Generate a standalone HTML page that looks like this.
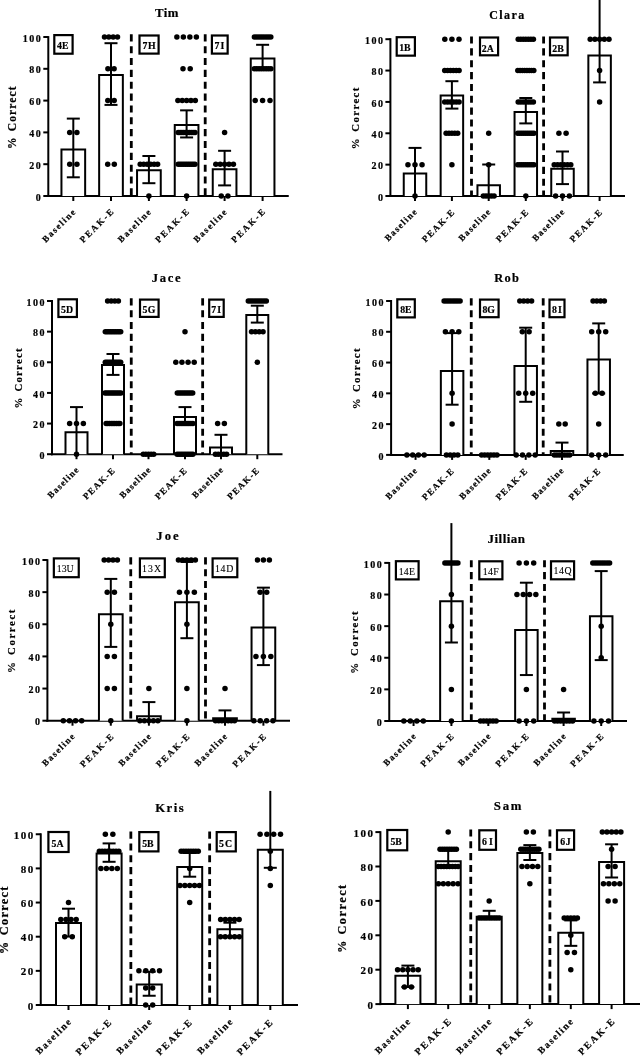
<!DOCTYPE html>
<html><head><meta charset="utf-8"><title>Figure</title><style>
html,body{margin:0;padding:0;background:#fff;}
svg{display:block;filter:grayscale(1) blur(0.3px);}
line,path.bar,rect.lb{stroke:#000;stroke-width:2.0;fill:none;}
rect.lb{stroke-width:2.2;}
path.bar{fill:#fff;}
line.dash{stroke-width:2.8;stroke-dasharray:7.1 4.75;}
circle{fill:#000;}
text{font-family:"Liberation Serif",serif;font-weight:bold;fill:#000;stroke:#000;stroke-width:0.2px;}
text.yt{text-anchor:end;}
text.xl{text-anchor:end;}
text.lbt{text-anchor:middle;font-size:9.5px;font-weight:normal;letter-spacing:0.4px;}
text.yl{text-anchor:middle;}
text.ti{text-anchor:middle;font-size:13px;}
</style></head>
<body><svg width="640" height="1056" viewBox="0 0 640 1056">
<rect x="0" y="0" width="640" height="1056" fill="#fff"/>
<g><line x1="48.3" y1="36.1" x2="48.3" y2="197"/>
<line x1="43.3" y1="196" x2="48.3" y2="196"/>
<text class="yt" x="42.3" y="200.6" style="font-size:10px;letter-spacing:1.5px">0</text>
<line x1="43.3" y1="164.2" x2="48.3" y2="164.2"/>
<text class="yt" x="42.3" y="168.8" style="font-size:10px;letter-spacing:1.5px">20</text>
<line x1="43.3" y1="132.4" x2="48.3" y2="132.4"/>
<text class="yt" x="42.3" y="137" style="font-size:10px;letter-spacing:1.5px">40</text>
<line x1="43.3" y1="100.6" x2="48.3" y2="100.6"/>
<text class="yt" x="42.3" y="105.2" style="font-size:10px;letter-spacing:1.5px">60</text>
<line x1="43.3" y1="68.8" x2="48.3" y2="68.8"/>
<text class="yt" x="42.3" y="73.4" style="font-size:10px;letter-spacing:1.5px">80</text>
<line x1="43.3" y1="37" x2="48.3" y2="37"/>
<text class="yt" x="42.3" y="41.6" style="font-size:10px;letter-spacing:1.5px">100</text>
<line x1="47.3" y1="196" x2="288.75" y2="196"/>
<line class="dash" x1="131.3" y1="34.3" x2="131.3" y2="196"/>
<line class="dash" x1="205.2" y1="34.3" x2="205.2" y2="196"/>
<line x1="73.3" y1="196" x2="73.3" y2="201"/>
<path class="bar" d="M61.45 196V149.6H85.15V196"/>
<line x1="73.3" y1="118.6" x2="73.3" y2="177.3"/>
<line x1="66.8" y1="118.6" x2="79.8" y2="118.6"/>
<line x1="66.8" y1="177.3" x2="79.8" y2="177.3"/>
<circle cx="69.7" cy="132.4" r="2.75"/>
<circle cx="76.9" cy="132.4" r="2.75"/>
<circle cx="69.7" cy="164.2" r="2.75"/>
<circle cx="76.9" cy="164.2" r="2.75"/>
<text class="xl" x="76.9" y="211.78" transform="rotate(-45 76.9 211.78)" style="font-size:9px;letter-spacing:1.5px">Baseline</text>
<line x1="111" y1="196" x2="111" y2="201"/>
<path class="bar" d="M99.15 196V75.1H122.85V196"/>
<line x1="111" y1="43.2" x2="111" y2="104.9"/>
<line x1="104.5" y1="43.2" x2="117.5" y2="43.2"/>
<line x1="104.5" y1="104.9" x2="117.5" y2="104.9"/>
<circle cx="104.5" cy="37" r="2.75"/>
<circle cx="108.83" cy="37" r="2.75"/>
<circle cx="113.17" cy="37" r="2.75"/>
<circle cx="117.5" cy="37" r="2.75"/>
<circle cx="107.9" cy="68.8" r="2.75"/>
<circle cx="114.1" cy="68.8" r="2.75"/>
<circle cx="107.8" cy="100.6" r="2.75"/>
<circle cx="114.2" cy="100.6" r="2.75"/>
<circle cx="107.7" cy="164.2" r="2.75"/>
<circle cx="114.3" cy="164.2" r="2.75"/>
<text class="xl" x="115.28" y="211.12" transform="rotate(-45 115.28 211.12)" style="font-size:9px;letter-spacing:1.9px">PEAK-E</text>
<line x1="148.9" y1="196" x2="148.9" y2="201"/>
<path class="bar" d="M137.05 196V170.15H160.75V196"/>
<line x1="148.9" y1="156" x2="148.9" y2="183.2"/>
<line x1="142.4" y1="156" x2="155.4" y2="156"/>
<line x1="142.4" y1="183.2" x2="155.4" y2="183.2"/>
<circle cx="140.2" cy="164.2" r="2.75"/>
<circle cx="143.68" cy="164.2" r="2.75"/>
<circle cx="147.16" cy="164.2" r="2.75"/>
<circle cx="150.64" cy="164.2" r="2.75"/>
<circle cx="154.12" cy="164.2" r="2.75"/>
<circle cx="157.6" cy="164.2" r="2.75"/>
<circle cx="148.9" cy="196" r="2.75"/>
<text class="xl" x="152.5" y="211.78" transform="rotate(-45 152.5 211.78)" style="font-size:9px;letter-spacing:1.5px">Baseline</text>
<line x1="186.6" y1="196" x2="186.6" y2="201"/>
<path class="bar" d="M174.75 196V125.05H198.45V196"/>
<line x1="186.6" y1="110.35" x2="186.6" y2="137.45"/>
<line x1="180.1" y1="110.35" x2="193.1" y2="110.35"/>
<line x1="180.1" y1="137.45" x2="193.1" y2="137.45"/>
<circle cx="176.85" cy="37" r="2.75"/>
<circle cx="183.35" cy="37" r="2.75"/>
<circle cx="189.85" cy="37" r="2.75"/>
<circle cx="196.35" cy="37" r="2.75"/>
<circle cx="183" cy="68.8" r="2.75"/>
<circle cx="190.2" cy="68.8" r="2.75"/>
<circle cx="177.9" cy="100.6" r="2.75"/>
<circle cx="182.25" cy="100.6" r="2.75"/>
<circle cx="186.6" cy="100.6" r="2.75"/>
<circle cx="190.95" cy="100.6" r="2.75"/>
<circle cx="195.3" cy="100.6" r="2.75"/>
<circle cx="178.2" cy="132.4" r="2.75"/>
<circle cx="180.07" cy="132.4" r="2.75"/>
<circle cx="181.93" cy="132.4" r="2.75"/>
<circle cx="183.8" cy="132.4" r="2.75"/>
<circle cx="185.67" cy="132.4" r="2.75"/>
<circle cx="187.53" cy="132.4" r="2.75"/>
<circle cx="189.4" cy="132.4" r="2.75"/>
<circle cx="191.27" cy="132.4" r="2.75"/>
<circle cx="193.13" cy="132.4" r="2.75"/>
<circle cx="195" cy="132.4" r="2.75"/>
<circle cx="178.2" cy="164.2" r="2.75"/>
<circle cx="180.07" cy="164.2" r="2.75"/>
<circle cx="181.93" cy="164.2" r="2.75"/>
<circle cx="183.8" cy="164.2" r="2.75"/>
<circle cx="185.67" cy="164.2" r="2.75"/>
<circle cx="187.53" cy="164.2" r="2.75"/>
<circle cx="189.4" cy="164.2" r="2.75"/>
<circle cx="191.27" cy="164.2" r="2.75"/>
<circle cx="193.13" cy="164.2" r="2.75"/>
<circle cx="195" cy="164.2" r="2.75"/>
<circle cx="186.6" cy="196" r="2.75"/>
<text class="xl" x="190.88" y="211.12" transform="rotate(-45 190.88 211.12)" style="font-size:9px;letter-spacing:1.9px">PEAK-E</text>
<line x1="224.6" y1="196" x2="224.6" y2="201"/>
<path class="bar" d="M212.75 196V169.15H236.45V196"/>
<line x1="224.6" y1="150.8" x2="224.6" y2="185.4"/>
<line x1="218.1" y1="150.8" x2="231.1" y2="150.8"/>
<line x1="218.1" y1="185.4" x2="231.1" y2="185.4"/>
<circle cx="224.6" cy="132.4" r="2.75"/>
<circle cx="215.8" cy="164.2" r="2.75"/>
<circle cx="220.2" cy="164.2" r="2.75"/>
<circle cx="224.6" cy="164.2" r="2.75"/>
<circle cx="229" cy="164.2" r="2.75"/>
<circle cx="233.4" cy="164.2" r="2.75"/>
<circle cx="221.25" cy="196" r="2.75"/>
<circle cx="227.95" cy="196" r="2.75"/>
<text class="xl" x="228.2" y="211.78" transform="rotate(-45 228.2 211.78)" style="font-size:9px;letter-spacing:1.5px">Baseline</text>
<line x1="262.6" y1="196" x2="262.6" y2="201"/>
<path class="bar" d="M250.75 196V58.5H274.45V196"/>
<line x1="262.6" y1="44.8" x2="262.6" y2="69.5"/>
<line x1="256.1" y1="44.8" x2="269.1" y2="44.8"/>
<line x1="256.1" y1="69.5" x2="269.1" y2="69.5"/>
<circle cx="254.4" cy="37" r="2.75"/>
<circle cx="256.74" cy="37" r="2.75"/>
<circle cx="259.09" cy="37" r="2.75"/>
<circle cx="261.43" cy="37" r="2.75"/>
<circle cx="263.77" cy="37" r="2.75"/>
<circle cx="266.11" cy="37" r="2.75"/>
<circle cx="268.46" cy="37" r="2.75"/>
<circle cx="270.8" cy="37" r="2.75"/>
<circle cx="254.3" cy="68.8" r="2.75"/>
<circle cx="256.67" cy="68.8" r="2.75"/>
<circle cx="259.04" cy="68.8" r="2.75"/>
<circle cx="261.41" cy="68.8" r="2.75"/>
<circle cx="263.79" cy="68.8" r="2.75"/>
<circle cx="266.16" cy="68.8" r="2.75"/>
<circle cx="268.53" cy="68.8" r="2.75"/>
<circle cx="270.9" cy="68.8" r="2.75"/>
<circle cx="255.2" cy="100.6" r="2.75"/>
<circle cx="262.6" cy="100.6" r="2.75"/>
<circle cx="270" cy="100.6" r="2.75"/>
<text class="xl" x="266.88" y="211.12" transform="rotate(-45 266.88 211.12)" style="font-size:9px;letter-spacing:1.9px">PEAK-E</text>
<rect class="lb" x="54.3" y="35.1" width="18.3" height="18.6"/>
<text class="lbt" x="62.77" y="49.3" style="font-size:9.8px;font-weight:bold;letter-spacing:0px">4E</text>
<rect class="lb" x="139.5" y="35.5" width="19.1" height="18.1"/>
<text class="lbt" x="149.32" y="49.05" style="font-size:9.8px;font-weight:bold;letter-spacing:0.5px">7H</text>
<rect class="lb" x="211.9" y="35.5" width="15.75" height="18.1"/>
<text class="lbt" x="220" y="49.05" style="font-size:9.8px;font-weight:bold;letter-spacing:1.2px">7I</text>
<text class="yl" x="16.25" y="117.12" transform="rotate(-90 16.25 117.12)" style="font-size:11.5px;letter-spacing:1.1px">% <tspan dx="1.2">Correct</tspan></text>
<text class="ti" x="166.95" y="16.88" style="font-size:12.8px;letter-spacing:0.4px">Tim</text></g>
<g><line x1="390.4" y1="38.2" x2="390.4" y2="197"/>
<line x1="385.4" y1="196" x2="390.4" y2="196"/>
<text class="yt" x="384.4" y="200.6" style="font-size:10px;letter-spacing:1.5px">0</text>
<line x1="385.4" y1="164.64" x2="390.4" y2="164.64"/>
<text class="yt" x="384.4" y="169.24" style="font-size:10px;letter-spacing:1.5px">20</text>
<line x1="385.4" y1="133.28" x2="390.4" y2="133.28"/>
<text class="yt" x="384.4" y="137.88" style="font-size:10px;letter-spacing:1.5px">40</text>
<line x1="385.4" y1="101.92" x2="390.4" y2="101.92"/>
<text class="yt" x="384.4" y="106.52" style="font-size:10px;letter-spacing:1.5px">60</text>
<line x1="385.4" y1="70.56" x2="390.4" y2="70.56"/>
<text class="yt" x="384.4" y="75.16" style="font-size:10px;letter-spacing:1.5px">80</text>
<line x1="385.4" y1="39.2" x2="390.4" y2="39.2"/>
<text class="yt" x="384.4" y="43.8" style="font-size:10px;letter-spacing:1.5px">100</text>
<line x1="389.4" y1="196" x2="625" y2="196"/>
<line class="dash" x1="471.5" y1="36.5" x2="471.5" y2="196"/>
<line class="dash" x1="543.6" y1="36.5" x2="543.6" y2="196"/>
<line x1="415" y1="196" x2="415" y2="201"/>
<path class="bar" d="M403.75 196V173.5H426.25V196"/>
<line x1="415" y1="147.9" x2="415" y2="196"/>
<line x1="408.5" y1="147.9" x2="421.5" y2="147.9"/>
<circle cx="407.95" cy="164.64" r="2.75"/>
<circle cx="415" cy="164.64" r="2.75"/>
<circle cx="422.05" cy="164.64" r="2.75"/>
<circle cx="415" cy="196" r="2.75"/>
<text class="xl" x="418.17" y="211.65" transform="rotate(-45 418.17 211.65)" style="font-size:9px;letter-spacing:1.3px">Baseline</text>
<line x1="451.9" y1="196" x2="451.9" y2="201"/>
<path class="bar" d="M440.65 196V95.5H463.15V196"/>
<line x1="451.9" y1="81.2" x2="451.9" y2="108.6"/>
<line x1="445.4" y1="81.2" x2="458.4" y2="81.2"/>
<line x1="445.4" y1="108.6" x2="458.4" y2="108.6"/>
<circle cx="444.8" cy="39.2" r="2.75"/>
<circle cx="451.9" cy="39.2" r="2.75"/>
<circle cx="459" cy="39.2" r="2.75"/>
<circle cx="444.7" cy="70.56" r="2.75"/>
<circle cx="447.58" cy="70.56" r="2.75"/>
<circle cx="450.46" cy="70.56" r="2.75"/>
<circle cx="453.34" cy="70.56" r="2.75"/>
<circle cx="456.22" cy="70.56" r="2.75"/>
<circle cx="459.1" cy="70.56" r="2.75"/>
<circle cx="444.7" cy="101.92" r="2.75"/>
<circle cx="447.58" cy="101.92" r="2.75"/>
<circle cx="450.46" cy="101.92" r="2.75"/>
<circle cx="453.34" cy="101.92" r="2.75"/>
<circle cx="456.22" cy="101.92" r="2.75"/>
<circle cx="459.1" cy="101.92" r="2.75"/>
<circle cx="446.1" cy="133.28" r="2.75"/>
<circle cx="449" cy="133.28" r="2.75"/>
<circle cx="451.9" cy="133.28" r="2.75"/>
<circle cx="454.8" cy="133.28" r="2.75"/>
<circle cx="457.7" cy="133.28" r="2.75"/>
<circle cx="451.9" cy="164.64" r="2.75"/>
<text class="xl" x="455.95" y="212.22" transform="rotate(-45 455.95 212.22)" style="font-size:9px;letter-spacing:1.5px">PEAK-E</text>
<line x1="488.7" y1="196" x2="488.7" y2="201"/>
<path class="bar" d="M477.45 196V185.25H499.95V196"/>
<line x1="488.7" y1="164.5" x2="488.7" y2="196"/>
<line x1="482.2" y1="164.5" x2="495.2" y2="164.5"/>
<circle cx="488.7" cy="133.28" r="2.75"/>
<circle cx="488.7" cy="164.64" r="2.75"/>
<circle cx="483.3" cy="196" r="2.75"/>
<circle cx="486" cy="196" r="2.75"/>
<circle cx="488.7" cy="196" r="2.75"/>
<circle cx="491.4" cy="196" r="2.75"/>
<circle cx="494.1" cy="196" r="2.75"/>
<text class="xl" x="491.88" y="211.65" transform="rotate(-45 491.88 211.65)" style="font-size:9px;letter-spacing:1.3px">Baseline</text>
<line x1="525.8" y1="196" x2="525.8" y2="201"/>
<path class="bar" d="M514.55 196V112.1H537.05V196"/>
<line x1="525.8" y1="98" x2="525.8" y2="123.4"/>
<line x1="519.3" y1="98" x2="532.3" y2="98"/>
<line x1="519.3" y1="123.4" x2="532.3" y2="123.4"/>
<circle cx="518.2" cy="39.2" r="2.75"/>
<circle cx="520.73" cy="39.2" r="2.75"/>
<circle cx="523.27" cy="39.2" r="2.75"/>
<circle cx="525.8" cy="39.2" r="2.75"/>
<circle cx="528.33" cy="39.2" r="2.75"/>
<circle cx="530.87" cy="39.2" r="2.75"/>
<circle cx="533.4" cy="39.2" r="2.75"/>
<circle cx="517.8" cy="70.56" r="2.75"/>
<circle cx="520.09" cy="70.56" r="2.75"/>
<circle cx="522.37" cy="70.56" r="2.75"/>
<circle cx="524.66" cy="70.56" r="2.75"/>
<circle cx="526.94" cy="70.56" r="2.75"/>
<circle cx="529.23" cy="70.56" r="2.75"/>
<circle cx="531.51" cy="70.56" r="2.75"/>
<circle cx="533.8" cy="70.56" r="2.75"/>
<circle cx="518.2" cy="101.92" r="2.75"/>
<circle cx="520.73" cy="101.92" r="2.75"/>
<circle cx="523.27" cy="101.92" r="2.75"/>
<circle cx="525.8" cy="101.92" r="2.75"/>
<circle cx="528.33" cy="101.92" r="2.75"/>
<circle cx="530.87" cy="101.92" r="2.75"/>
<circle cx="533.4" cy="101.92" r="2.75"/>
<circle cx="517.7" cy="133.28" r="2.75"/>
<circle cx="519.72" cy="133.28" r="2.75"/>
<circle cx="521.75" cy="133.28" r="2.75"/>
<circle cx="523.77" cy="133.28" r="2.75"/>
<circle cx="525.8" cy="133.28" r="2.75"/>
<circle cx="527.82" cy="133.28" r="2.75"/>
<circle cx="529.85" cy="133.28" r="2.75"/>
<circle cx="531.87" cy="133.28" r="2.75"/>
<circle cx="533.9" cy="133.28" r="2.75"/>
<circle cx="517.7" cy="164.64" r="2.75"/>
<circle cx="519.72" cy="164.64" r="2.75"/>
<circle cx="521.75" cy="164.64" r="2.75"/>
<circle cx="523.77" cy="164.64" r="2.75"/>
<circle cx="525.8" cy="164.64" r="2.75"/>
<circle cx="527.82" cy="164.64" r="2.75"/>
<circle cx="529.85" cy="164.64" r="2.75"/>
<circle cx="531.87" cy="164.64" r="2.75"/>
<circle cx="533.9" cy="164.64" r="2.75"/>
<circle cx="525.8" cy="196" r="2.75"/>
<text class="xl" x="529.85" y="212.22" transform="rotate(-45 529.85 212.22)" style="font-size:9px;letter-spacing:1.5px">PEAK-E</text>
<line x1="562.5" y1="196" x2="562.5" y2="201"/>
<path class="bar" d="M551.25 196V168.75H573.75V196"/>
<line x1="562.5" y1="151.5" x2="562.5" y2="184.1"/>
<line x1="556" y1="151.5" x2="569" y2="151.5"/>
<line x1="556" y1="184.1" x2="569" y2="184.1"/>
<circle cx="558.9" cy="133.28" r="2.75"/>
<circle cx="566.1" cy="133.28" r="2.75"/>
<circle cx="554.2" cy="164.64" r="2.75"/>
<circle cx="557.52" cy="164.64" r="2.75"/>
<circle cx="560.84" cy="164.64" r="2.75"/>
<circle cx="564.16" cy="164.64" r="2.75"/>
<circle cx="567.48" cy="164.64" r="2.75"/>
<circle cx="570.8" cy="164.64" r="2.75"/>
<circle cx="555.6" cy="196" r="2.75"/>
<circle cx="562.5" cy="196" r="2.75"/>
<circle cx="569.4" cy="196" r="2.75"/>
<text class="xl" x="565.68" y="211.65" transform="rotate(-45 565.68 211.65)" style="font-size:9px;letter-spacing:1.3px">Baseline</text>
<line x1="599.6" y1="196" x2="599.6" y2="201"/>
<path class="bar" d="M588.35 196V55.5H610.85V196"/>
<line x1="599.6" y1="0" x2="599.6" y2="82.4"/>
<line x1="593.1" y1="82.4" x2="606.1" y2="82.4"/>
<circle cx="590.2" cy="39.2" r="2.75"/>
<circle cx="594.9" cy="39.2" r="2.75"/>
<circle cx="599.6" cy="39.2" r="2.75"/>
<circle cx="604.3" cy="39.2" r="2.75"/>
<circle cx="609" cy="39.2" r="2.75"/>
<circle cx="599.6" cy="70.56" r="2.75"/>
<circle cx="599.6" cy="101.92" r="2.75"/>
<text class="xl" x="603.65" y="212.22" transform="rotate(-45 603.65 212.22)" style="font-size:9px;letter-spacing:1.5px">PEAK-E</text>
<rect class="lb" x="396.7" y="37.2" width="18.2" height="18.45"/>
<text class="lbt" x="404.88" y="50.95" style="font-size:9.8px;font-weight:bold;letter-spacing:0px">1B</text>
<rect class="lb" x="480" y="37.5" width="18.1" height="17.8"/>
<text class="lbt" x="487.85" y="51.55" style="font-size:9.8px;font-weight:bold;letter-spacing:0px">2A</text>
<rect class="lb" x="550" y="37.5" width="17.65" height="17.8"/>
<text class="lbt" x="558.08" y="51.55" style="font-size:9.8px;font-weight:bold;letter-spacing:0px">2B</text>
<text class="yl" x="359.2" y="117.75" transform="rotate(-90 359.2 117.75)" style="font-size:10.8px;letter-spacing:1.4px">% <tspan dx="1.2">Correct</tspan></text>
<text class="ti" x="507.4" y="18.77" style="font-size:12px;letter-spacing:1.4px">Clara</text></g>
<g><line x1="52" y1="300" x2="52" y2="455.2"/>
<line x1="47" y1="454.2" x2="52" y2="454.2"/>
<text class="yt" x="46" y="458.8" style="font-size:10px;letter-spacing:1.5px">0</text>
<line x1="47" y1="423.56" x2="52" y2="423.56"/>
<text class="yt" x="46" y="428.16" style="font-size:10px;letter-spacing:1.5px">20</text>
<line x1="47" y1="392.92" x2="52" y2="392.92"/>
<text class="yt" x="46" y="397.52" style="font-size:10px;letter-spacing:1.5px">40</text>
<line x1="47" y1="362.28" x2="52" y2="362.28"/>
<text class="yt" x="46" y="366.88" style="font-size:10px;letter-spacing:1.5px">60</text>
<line x1="47" y1="331.64" x2="52" y2="331.64"/>
<text class="yt" x="46" y="336.24" style="font-size:10px;letter-spacing:1.5px">80</text>
<line x1="47" y1="301" x2="52" y2="301"/>
<text class="yt" x="46" y="305.6" style="font-size:10px;letter-spacing:1.5px">100</text>
<line x1="51" y1="454.2" x2="282.5" y2="454.2"/>
<line class="dash" x1="131.25" y1="298.3" x2="131.25" y2="454.2"/>
<line class="dash" x1="202.65" y1="298.3" x2="202.65" y2="454.2"/>
<line x1="76.5" y1="454.2" x2="76.5" y2="459.2"/>
<path class="bar" d="M65.5 454.2V432.35H87.5V454.2"/>
<line x1="76.5" y1="407.1" x2="76.5" y2="454.2"/>
<line x1="70" y1="407.1" x2="83" y2="407.1"/>
<circle cx="69.65" cy="423.56" r="2.75"/>
<circle cx="76.5" cy="423.56" r="2.75"/>
<circle cx="83.35" cy="423.56" r="2.75"/>
<circle cx="76.5" cy="454.2" r="2.75"/>
<text class="xl" x="79.9" y="469.88" transform="rotate(-45 79.9 469.88)" style="font-size:9px;letter-spacing:1.1px">Baseline</text>
<line x1="113" y1="454.2" x2="113" y2="459.2"/>
<path class="bar" d="M102 454.2V365.1H124V454.2"/>
<line x1="113" y1="354" x2="113" y2="374.9"/>
<line x1="106.5" y1="354" x2="119.5" y2="354"/>
<line x1="106.5" y1="374.9" x2="119.5" y2="374.9"/>
<circle cx="107.6" cy="301" r="2.75"/>
<circle cx="111.2" cy="301" r="2.75"/>
<circle cx="114.8" cy="301" r="2.75"/>
<circle cx="118.4" cy="301" r="2.75"/>
<circle cx="105.3" cy="331.64" r="2.75"/>
<circle cx="107.01" cy="331.64" r="2.75"/>
<circle cx="108.72" cy="331.64" r="2.75"/>
<circle cx="110.43" cy="331.64" r="2.75"/>
<circle cx="112.14" cy="331.64" r="2.75"/>
<circle cx="113.86" cy="331.64" r="2.75"/>
<circle cx="115.57" cy="331.64" r="2.75"/>
<circle cx="117.28" cy="331.64" r="2.75"/>
<circle cx="118.99" cy="331.64" r="2.75"/>
<circle cx="120.7" cy="331.64" r="2.75"/>
<circle cx="105.3" cy="362.28" r="2.75"/>
<circle cx="107.01" cy="362.28" r="2.75"/>
<circle cx="108.72" cy="362.28" r="2.75"/>
<circle cx="110.43" cy="362.28" r="2.75"/>
<circle cx="112.14" cy="362.28" r="2.75"/>
<circle cx="113.86" cy="362.28" r="2.75"/>
<circle cx="115.57" cy="362.28" r="2.75"/>
<circle cx="117.28" cy="362.28" r="2.75"/>
<circle cx="118.99" cy="362.28" r="2.75"/>
<circle cx="120.7" cy="362.28" r="2.75"/>
<circle cx="105" cy="392.92" r="2.75"/>
<circle cx="106.78" cy="392.92" r="2.75"/>
<circle cx="108.56" cy="392.92" r="2.75"/>
<circle cx="110.33" cy="392.92" r="2.75"/>
<circle cx="112.11" cy="392.92" r="2.75"/>
<circle cx="113.89" cy="392.92" r="2.75"/>
<circle cx="115.67" cy="392.92" r="2.75"/>
<circle cx="117.44" cy="392.92" r="2.75"/>
<circle cx="119.22" cy="392.92" r="2.75"/>
<circle cx="121" cy="392.92" r="2.75"/>
<circle cx="106.1" cy="423.56" r="2.75"/>
<circle cx="107.82" cy="423.56" r="2.75"/>
<circle cx="109.55" cy="423.56" r="2.75"/>
<circle cx="111.27" cy="423.56" r="2.75"/>
<circle cx="113" cy="423.56" r="2.75"/>
<circle cx="114.72" cy="423.56" r="2.75"/>
<circle cx="116.45" cy="423.56" r="2.75"/>
<circle cx="118.17" cy="423.56" r="2.75"/>
<circle cx="119.9" cy="423.56" r="2.75"/>
<text class="xl" x="116.1" y="470.48" transform="rotate(-45 116.1 470.48)" style="font-size:9px;letter-spacing:1.3px">PEAK-E</text>
<line x1="148.5" y1="454.2" x2="148.5" y2="459.2"/>
<circle cx="143.25" cy="454.2" r="2.75"/>
<circle cx="145.88" cy="454.2" r="2.75"/>
<circle cx="148.5" cy="454.2" r="2.75"/>
<circle cx="151.12" cy="454.2" r="2.75"/>
<circle cx="153.75" cy="454.2" r="2.75"/>
<text class="xl" x="151.9" y="469.88" transform="rotate(-45 151.9 469.88)" style="font-size:9px;letter-spacing:1.1px">Baseline</text>
<line x1="185" y1="454.2" x2="185" y2="459.2"/>
<path class="bar" d="M174 454.2V417.1H196V454.2"/>
<line x1="185" y1="407.1" x2="185" y2="425"/>
<line x1="178.5" y1="407.1" x2="191.5" y2="407.1"/>
<line x1="178.5" y1="425" x2="191.5" y2="425"/>
<circle cx="185" cy="331.64" r="2.75"/>
<circle cx="175.8" cy="362.28" r="2.75"/>
<circle cx="181.93" cy="362.28" r="2.75"/>
<circle cx="188.07" cy="362.28" r="2.75"/>
<circle cx="194.2" cy="362.28" r="2.75"/>
<circle cx="177.3" cy="392.92" r="2.75"/>
<circle cx="179.23" cy="392.92" r="2.75"/>
<circle cx="181.15" cy="392.92" r="2.75"/>
<circle cx="183.08" cy="392.92" r="2.75"/>
<circle cx="185" cy="392.92" r="2.75"/>
<circle cx="186.93" cy="392.92" r="2.75"/>
<circle cx="188.85" cy="392.92" r="2.75"/>
<circle cx="190.78" cy="392.92" r="2.75"/>
<circle cx="192.7" cy="392.92" r="2.75"/>
<circle cx="177.1" cy="423.56" r="2.75"/>
<circle cx="179.07" cy="423.56" r="2.75"/>
<circle cx="181.05" cy="423.56" r="2.75"/>
<circle cx="183.03" cy="423.56" r="2.75"/>
<circle cx="185" cy="423.56" r="2.75"/>
<circle cx="186.97" cy="423.56" r="2.75"/>
<circle cx="188.95" cy="423.56" r="2.75"/>
<circle cx="190.92" cy="423.56" r="2.75"/>
<circle cx="192.9" cy="423.56" r="2.75"/>
<circle cx="177.1" cy="454.2" r="2.75"/>
<circle cx="179.07" cy="454.2" r="2.75"/>
<circle cx="181.05" cy="454.2" r="2.75"/>
<circle cx="183.03" cy="454.2" r="2.75"/>
<circle cx="185" cy="454.2" r="2.75"/>
<circle cx="186.97" cy="454.2" r="2.75"/>
<circle cx="188.95" cy="454.2" r="2.75"/>
<circle cx="190.92" cy="454.2" r="2.75"/>
<circle cx="192.9" cy="454.2" r="2.75"/>
<text class="xl" x="188.1" y="470.48" transform="rotate(-45 188.1 470.48)" style="font-size:9px;letter-spacing:1.3px">PEAK-E</text>
<line x1="221" y1="454.2" x2="221" y2="459.2"/>
<path class="bar" d="M210 454.2V447.55H232V454.2"/>
<line x1="221" y1="434.8" x2="221" y2="454.2"/>
<line x1="214.5" y1="434.8" x2="227.5" y2="434.8"/>
<circle cx="217.65" cy="423.56" r="2.75"/>
<circle cx="224.35" cy="423.56" r="2.75"/>
<circle cx="215.4" cy="454.2" r="2.75"/>
<circle cx="218.2" cy="454.2" r="2.75"/>
<circle cx="221" cy="454.2" r="2.75"/>
<circle cx="223.8" cy="454.2" r="2.75"/>
<circle cx="226.6" cy="454.2" r="2.75"/>
<text class="xl" x="224.4" y="469.88" transform="rotate(-45 224.4 469.88)" style="font-size:9px;letter-spacing:1.1px">Baseline</text>
<line x1="257.3" y1="454.2" x2="257.3" y2="459.2"/>
<path class="bar" d="M246.3 454.2V315H268.3V454.2"/>
<line x1="257.3" y1="305.7" x2="257.3" y2="322.6"/>
<line x1="250.8" y1="305.7" x2="263.8" y2="305.7"/>
<line x1="250.8" y1="322.6" x2="263.8" y2="322.6"/>
<circle cx="248.3" cy="301" r="2.75"/>
<circle cx="250.55" cy="301" r="2.75"/>
<circle cx="252.8" cy="301" r="2.75"/>
<circle cx="255.05" cy="301" r="2.75"/>
<circle cx="257.3" cy="301" r="2.75"/>
<circle cx="259.55" cy="301" r="2.75"/>
<circle cx="261.8" cy="301" r="2.75"/>
<circle cx="264.05" cy="301" r="2.75"/>
<circle cx="266.3" cy="301" r="2.75"/>
<circle cx="251.55" cy="331.64" r="2.75"/>
<circle cx="255.38" cy="331.64" r="2.75"/>
<circle cx="259.22" cy="331.64" r="2.75"/>
<circle cx="263.05" cy="331.64" r="2.75"/>
<circle cx="257.3" cy="362.28" r="2.75"/>
<text class="xl" x="260.4" y="470.48" transform="rotate(-45 260.4 470.48)" style="font-size:9px;letter-spacing:1.3px">PEAK-E</text>
<rect class="lb" x="58.4" y="299.3" width="18.5" height="17.7"/>
<text class="lbt" x="67.1" y="313" style="font-size:9.8px;font-weight:bold;letter-spacing:0px">5D</text>
<rect class="lb" x="140" y="299.6" width="18.6" height="17.3"/>
<text class="lbt" x="149.03" y="312.65" style="font-size:9.8px;font-weight:bold;letter-spacing:0.3px">5G</text>
<rect class="lb" x="209.2" y="299.6" width="14.5" height="17.3"/>
<text class="lbt" x="216.62" y="312.65" style="font-size:9.8px;font-weight:bold;letter-spacing:0.9px">7I</text>
<text class="yl" x="22.05" y="377.95" transform="rotate(-90 22.05 377.95)" style="font-size:10.8px;letter-spacing:1.2px">% <tspan dx="1.2">Correct</tspan></text>
<text class="ti" x="167" y="281.6" style="font-size:12.6px;letter-spacing:1.7px">Jace</text></g>
<g><line x1="391.1" y1="300" x2="391.1" y2="455.9"/>
<line x1="386.1" y1="454.9" x2="391.1" y2="454.9"/>
<text class="yt" x="385.1" y="459.5" style="font-size:10px;letter-spacing:1.5px">0</text>
<line x1="386.1" y1="424.12" x2="391.1" y2="424.12"/>
<text class="yt" x="385.1" y="428.72" style="font-size:10px;letter-spacing:1.5px">20</text>
<line x1="386.1" y1="393.34" x2="391.1" y2="393.34"/>
<text class="yt" x="385.1" y="397.94" style="font-size:10px;letter-spacing:1.5px">40</text>
<line x1="386.1" y1="362.56" x2="391.1" y2="362.56"/>
<text class="yt" x="385.1" y="367.16" style="font-size:10px;letter-spacing:1.5px">60</text>
<line x1="386.1" y1="331.78" x2="391.1" y2="331.78"/>
<text class="yt" x="385.1" y="336.38" style="font-size:10px;letter-spacing:1.5px">80</text>
<line x1="386.1" y1="301" x2="391.1" y2="301"/>
<text class="yt" x="385.1" y="305.6" style="font-size:10px;letter-spacing:1.5px">100</text>
<line x1="390.1" y1="454.9" x2="623.75" y2="454.9"/>
<line class="dash" x1="471.25" y1="298.3" x2="471.25" y2="454.9"/>
<line class="dash" x1="543.2" y1="298.3" x2="543.2" y2="454.9"/>
<line x1="415.55" y1="454.9" x2="415.55" y2="459.9"/>
<circle cx="406.9" cy="454.9" r="2.75"/>
<circle cx="412.67" cy="454.9" r="2.75"/>
<circle cx="418.43" cy="454.9" r="2.75"/>
<circle cx="424.2" cy="454.9" r="2.75"/>
<text class="xl" x="418.43" y="470.5" transform="rotate(-45 418.43 470.5)" style="font-size:9px;letter-spacing:1.2px">Baseline</text>
<line x1="452.1" y1="454.9" x2="452.1" y2="459.9"/>
<path class="bar" d="M440.85 454.9V370.9H463.35V454.9"/>
<line x1="452.1" y1="333.1" x2="452.1" y2="404.7"/>
<line x1="445.6" y1="333.1" x2="458.6" y2="333.1"/>
<line x1="445.6" y1="404.7" x2="458.6" y2="404.7"/>
<circle cx="444.1" cy="301" r="2.75"/>
<circle cx="446.39" cy="301" r="2.75"/>
<circle cx="448.67" cy="301" r="2.75"/>
<circle cx="450.96" cy="301" r="2.75"/>
<circle cx="453.24" cy="301" r="2.75"/>
<circle cx="455.53" cy="301" r="2.75"/>
<circle cx="457.81" cy="301" r="2.75"/>
<circle cx="460.1" cy="301" r="2.75"/>
<circle cx="445.4" cy="331.78" r="2.75"/>
<circle cx="452.1" cy="331.78" r="2.75"/>
<circle cx="458.8" cy="331.78" r="2.75"/>
<circle cx="452.1" cy="393.34" r="2.75"/>
<circle cx="452.1" cy="424.12" r="2.75"/>
<circle cx="446.4" cy="454.9" r="2.75"/>
<circle cx="450.2" cy="454.9" r="2.75"/>
<circle cx="454" cy="454.9" r="2.75"/>
<circle cx="457.8" cy="454.9" r="2.75"/>
<text class="xl" x="455.2" y="471.17" transform="rotate(-45 455.2 471.17)" style="font-size:9px;letter-spacing:1.3px">PEAK-E</text>
<line x1="489.3" y1="454.9" x2="489.3" y2="459.9"/>
<circle cx="481.6" cy="454.9" r="2.75"/>
<circle cx="484.68" cy="454.9" r="2.75"/>
<circle cx="487.76" cy="454.9" r="2.75"/>
<circle cx="490.84" cy="454.9" r="2.75"/>
<circle cx="493.92" cy="454.9" r="2.75"/>
<circle cx="497" cy="454.9" r="2.75"/>
<text class="xl" x="492.18" y="470.5" transform="rotate(-45 492.18 470.5)" style="font-size:9px;letter-spacing:1.2px">Baseline</text>
<line x1="525.7" y1="454.9" x2="525.7" y2="459.9"/>
<path class="bar" d="M514.45 454.9V366.1H536.95V454.9"/>
<line x1="525.7" y1="327.7" x2="525.7" y2="401.8"/>
<line x1="519.2" y1="327.7" x2="532.2" y2="327.7"/>
<line x1="519.2" y1="401.8" x2="532.2" y2="401.8"/>
<circle cx="519.8" cy="301" r="2.75"/>
<circle cx="523.73" cy="301" r="2.75"/>
<circle cx="527.67" cy="301" r="2.75"/>
<circle cx="531.6" cy="301" r="2.75"/>
<circle cx="522.3" cy="331.78" r="2.75"/>
<circle cx="529.1" cy="331.78" r="2.75"/>
<circle cx="518.7" cy="393.34" r="2.75"/>
<circle cx="525.7" cy="393.34" r="2.75"/>
<circle cx="532.7" cy="393.34" r="2.75"/>
<circle cx="516.2" cy="454.9" r="2.75"/>
<circle cx="522.53" cy="454.9" r="2.75"/>
<circle cx="528.87" cy="454.9" r="2.75"/>
<circle cx="535.2" cy="454.9" r="2.75"/>
<text class="xl" x="528.8" y="471.17" transform="rotate(-45 528.8 471.17)" style="font-size:9px;letter-spacing:1.3px">PEAK-E</text>
<line x1="562" y1="454.9" x2="562" y2="459.9"/>
<path class="bar" d="M550.75 454.9V450.9H573.25V454.9"/>
<line x1="562" y1="442.6" x2="562" y2="454.9"/>
<line x1="555.5" y1="442.6" x2="568.5" y2="442.6"/>
<circle cx="558.8" cy="424.12" r="2.75"/>
<circle cx="565.2" cy="424.12" r="2.75"/>
<circle cx="554.3" cy="454.9" r="2.75"/>
<circle cx="556.87" cy="454.9" r="2.75"/>
<circle cx="559.43" cy="454.9" r="2.75"/>
<circle cx="562" cy="454.9" r="2.75"/>
<circle cx="564.57" cy="454.9" r="2.75"/>
<circle cx="567.13" cy="454.9" r="2.75"/>
<circle cx="569.7" cy="454.9" r="2.75"/>
<text class="xl" x="564.88" y="470.5" transform="rotate(-45 564.88 470.5)" style="font-size:9px;letter-spacing:1.2px">Baseline</text>
<line x1="598.7" y1="454.9" x2="598.7" y2="459.9"/>
<path class="bar" d="M587.45 454.9V359.6H609.95V454.9"/>
<line x1="598.7" y1="323.4" x2="598.7" y2="393.4"/>
<line x1="592.2" y1="323.4" x2="605.2" y2="323.4"/>
<line x1="592.2" y1="393.4" x2="605.2" y2="393.4"/>
<circle cx="593.05" cy="301" r="2.75"/>
<circle cx="596.82" cy="301" r="2.75"/>
<circle cx="600.58" cy="301" r="2.75"/>
<circle cx="604.35" cy="301" r="2.75"/>
<circle cx="591.7" cy="331.78" r="2.75"/>
<circle cx="598.7" cy="331.78" r="2.75"/>
<circle cx="605.7" cy="331.78" r="2.75"/>
<circle cx="595.3" cy="393.34" r="2.75"/>
<circle cx="602.1" cy="393.34" r="2.75"/>
<circle cx="598.7" cy="424.12" r="2.75"/>
<circle cx="591.7" cy="454.9" r="2.75"/>
<circle cx="598.7" cy="454.9" r="2.75"/>
<circle cx="605.7" cy="454.9" r="2.75"/>
<text class="xl" x="601.8" y="471.17" transform="rotate(-45 601.8 471.17)" style="font-size:9px;letter-spacing:1.3px">PEAK-E</text>
<rect class="lb" x="397.3" y="299.3" width="17.5" height="18.1"/>
<text class="lbt" x="405.95" y="313.15" style="font-size:9.8px;font-weight:bold;letter-spacing:0px">8E</text>
<rect class="lb" x="480" y="299.6" width="18.6" height="17.6"/>
<text class="lbt" x="488.65" y="313.15" style="font-size:9.8px;font-weight:bold;letter-spacing:0px">8G</text>
<rect class="lb" x="549.5" y="299.6" width="15" height="17.6"/>
<text class="lbt" x="557.35" y="313.15" style="font-size:9.8px;font-weight:bold;letter-spacing:0.9px">8I</text>
<text class="yl" x="360.25" y="378.23" transform="rotate(-90 360.25 378.23)" style="font-size:10.8px;letter-spacing:1.3px">% <tspan dx="1.2">Correct</tspan></text>
<text class="ti" x="507.2" y="282" style="font-size:12.4px;letter-spacing:1.3px">Rob</text></g>
<g><line x1="47.4" y1="559.2" x2="47.4" y2="721.7"/>
<line x1="42.4" y1="720.7" x2="47.4" y2="720.7"/>
<text class="yt" x="41.4" y="725.3" style="font-size:10px;letter-spacing:1.5px">0</text>
<line x1="42.4" y1="688.56" x2="47.4" y2="688.56"/>
<text class="yt" x="41.4" y="693.16" style="font-size:10px;letter-spacing:1.5px">20</text>
<line x1="42.4" y1="656.42" x2="47.4" y2="656.42"/>
<text class="yt" x="41.4" y="661.02" style="font-size:10px;letter-spacing:1.5px">40</text>
<line x1="42.4" y1="624.28" x2="47.4" y2="624.28"/>
<text class="yt" x="41.4" y="628.88" style="font-size:10px;letter-spacing:1.5px">60</text>
<line x1="42.4" y1="592.14" x2="47.4" y2="592.14"/>
<text class="yt" x="41.4" y="596.74" style="font-size:10px;letter-spacing:1.5px">80</text>
<line x1="42.4" y1="560" x2="47.4" y2="560"/>
<text class="yt" x="41.4" y="564.6" style="font-size:10px;letter-spacing:1.5px">100</text>
<line x1="46.4" y1="720.7" x2="290" y2="720.7"/>
<line class="dash" x1="130.75" y1="557.3" x2="130.75" y2="720.7"/>
<line class="dash" x1="205.5" y1="557.3" x2="205.5" y2="720.7"/>
<line x1="72.5" y1="720.7" x2="72.5" y2="725.7"/>
<circle cx="63.3" cy="720.7" r="2.75"/>
<circle cx="69.43" cy="720.7" r="2.75"/>
<circle cx="75.57" cy="720.7" r="2.75"/>
<circle cx="81.7" cy="720.7" r="2.75"/>
<text class="xl" x="76.1" y="736.2" transform="rotate(-45 76.1 736.2)" style="font-size:9px;letter-spacing:1.4px">Baseline</text>
<line x1="110.8" y1="720.7" x2="110.8" y2="725.7"/>
<path class="bar" d="M98.95 720.7V614.2H122.65V720.7"/>
<line x1="110.8" y1="578.9" x2="110.8" y2="646.9"/>
<line x1="104.3" y1="578.9" x2="117.3" y2="578.9"/>
<line x1="104.3" y1="646.9" x2="117.3" y2="646.9"/>
<circle cx="104.2" cy="560" r="2.75"/>
<circle cx="108.6" cy="560" r="2.75"/>
<circle cx="113" cy="560" r="2.75"/>
<circle cx="117.4" cy="560" r="2.75"/>
<circle cx="107.2" cy="592.14" r="2.75"/>
<circle cx="114.4" cy="592.14" r="2.75"/>
<circle cx="110.8" cy="624.28" r="2.75"/>
<circle cx="107.2" cy="656.42" r="2.75"/>
<circle cx="114.4" cy="656.42" r="2.75"/>
<circle cx="107.2" cy="688.56" r="2.75"/>
<circle cx="114.4" cy="688.56" r="2.75"/>
<circle cx="110.8" cy="720.7" r="2.75"/>
<text class="xl" x="115.2" y="736.17" transform="rotate(-45 115.2 736.17)" style="font-size:9px;letter-spacing:1.8px">PEAK-E</text>
<line x1="148.9" y1="720.7" x2="148.9" y2="725.7"/>
<path class="bar" d="M137.05 720.7V716.15H160.75V720.7"/>
<line x1="148.9" y1="702.1" x2="148.9" y2="720.7"/>
<line x1="142.4" y1="702.1" x2="155.4" y2="702.1"/>
<circle cx="148.9" cy="688.56" r="2.75"/>
<circle cx="139.9" cy="720.7" r="2.75"/>
<circle cx="144.4" cy="720.7" r="2.75"/>
<circle cx="148.9" cy="720.7" r="2.75"/>
<circle cx="153.4" cy="720.7" r="2.75"/>
<circle cx="157.9" cy="720.7" r="2.75"/>
<text class="xl" x="152.5" y="736.2" transform="rotate(-45 152.5 736.2)" style="font-size:9px;letter-spacing:1.4px">Baseline</text>
<line x1="186.9" y1="720.7" x2="186.9" y2="725.7"/>
<path class="bar" d="M175.05 720.7V602.25H198.75V720.7"/>
<line x1="186.9" y1="561.95" x2="186.9" y2="638.2"/>
<line x1="180.4" y1="561.95" x2="193.4" y2="561.95"/>
<line x1="180.4" y1="638.2" x2="193.4" y2="638.2"/>
<circle cx="178.45" cy="560" r="2.75"/>
<circle cx="182.68" cy="560" r="2.75"/>
<circle cx="186.9" cy="560" r="2.75"/>
<circle cx="191.13" cy="560" r="2.75"/>
<circle cx="195.35" cy="560" r="2.75"/>
<circle cx="179.45" cy="592.14" r="2.75"/>
<circle cx="186.9" cy="592.14" r="2.75"/>
<circle cx="194.35" cy="592.14" r="2.75"/>
<circle cx="186.9" cy="624.28" r="2.75"/>
<circle cx="186.9" cy="688.56" r="2.75"/>
<circle cx="186.9" cy="720.7" r="2.75"/>
<text class="xl" x="191.3" y="736.17" transform="rotate(-45 191.3 736.17)" style="font-size:9px;letter-spacing:1.8px">PEAK-E</text>
<line x1="225" y1="720.7" x2="225" y2="725.7"/>
<path class="bar" d="M213.15 720.7V718.3H236.85V720.7"/>
<line x1="225" y1="710.4" x2="225" y2="720.7"/>
<line x1="218.5" y1="710.4" x2="231.5" y2="710.4"/>
<circle cx="225" cy="688.56" r="2.75"/>
<circle cx="215.5" cy="720.7" r="2.75"/>
<circle cx="218.67" cy="720.7" r="2.75"/>
<circle cx="221.83" cy="720.7" r="2.75"/>
<circle cx="225" cy="720.7" r="2.75"/>
<circle cx="228.17" cy="720.7" r="2.75"/>
<circle cx="231.33" cy="720.7" r="2.75"/>
<circle cx="234.5" cy="720.7" r="2.75"/>
<text class="xl" x="228.6" y="736.2" transform="rotate(-45 228.6 736.2)" style="font-size:9px;letter-spacing:1.4px">Baseline</text>
<line x1="263.4" y1="720.7" x2="263.4" y2="725.7"/>
<path class="bar" d="M251.55 720.7V627.45H275.25V720.7"/>
<line x1="263.4" y1="587.65" x2="263.4" y2="665.1"/>
<line x1="256.9" y1="587.65" x2="269.9" y2="587.65"/>
<line x1="256.9" y1="665.1" x2="269.9" y2="665.1"/>
<circle cx="257.45" cy="560" r="2.75"/>
<circle cx="263.4" cy="560" r="2.75"/>
<circle cx="269.35" cy="560" r="2.75"/>
<circle cx="260.1" cy="592.14" r="2.75"/>
<circle cx="266.7" cy="592.14" r="2.75"/>
<circle cx="255.95" cy="656.42" r="2.75"/>
<circle cx="263.4" cy="656.42" r="2.75"/>
<circle cx="270.85" cy="656.42" r="2.75"/>
<circle cx="253.85" cy="720.7" r="2.75"/>
<circle cx="260.22" cy="720.7" r="2.75"/>
<circle cx="266.58" cy="720.7" r="2.75"/>
<circle cx="272.95" cy="720.7" r="2.75"/>
<text class="xl" x="267.8" y="736.17" transform="rotate(-45 267.8 736.17)" style="font-size:9px;letter-spacing:1.8px">PEAK-E</text>
<rect class="lb" x="53.85" y="558.4" width="24.9" height="18.8"/>
<text class="lbt" x="65.18" y="572.2" style="font-size:9.8px;font-weight:normal;letter-spacing:0px;stroke-width:0.1px">13U</text>
<rect class="lb" x="139.9" y="558.4" width="24.9" height="18.8"/>
<text class="lbt" x="152" y="572.3" style="font-size:9.8px;font-weight:normal;letter-spacing:1.1px;stroke-width:0.1px">13X</text>
<rect class="lb" x="212.6" y="558.4" width="24.7" height="18.8"/>
<text class="lbt" x="224.48" y="572.3" style="font-size:9.8px;font-weight:normal;letter-spacing:0.7px;stroke-width:0.1px">14D</text>
<text class="yl" x="15.1" y="640.45" transform="rotate(-90 15.1 640.45)" style="font-size:10.8px;letter-spacing:1.6px">% <tspan dx="1.2">Correct</tspan></text>
<text class="ti" x="168.55" y="539.6" style="font-size:12.6px;letter-spacing:2.1px">Joe</text></g>
<g><line x1="389.25" y1="562" x2="389.25" y2="722"/>
<line x1="384.25" y1="721" x2="389.25" y2="721"/>
<text class="yt" x="383.25" y="725.6" style="font-size:10px;letter-spacing:1.5px">0</text>
<line x1="384.25" y1="689.38" x2="389.25" y2="689.38"/>
<text class="yt" x="383.25" y="693.98" style="font-size:10px;letter-spacing:1.5px">20</text>
<line x1="384.25" y1="657.76" x2="389.25" y2="657.76"/>
<text class="yt" x="383.25" y="662.36" style="font-size:10px;letter-spacing:1.5px">40</text>
<line x1="384.25" y1="626.14" x2="389.25" y2="626.14"/>
<text class="yt" x="383.25" y="630.74" style="font-size:10px;letter-spacing:1.5px">60</text>
<line x1="384.25" y1="594.52" x2="389.25" y2="594.52"/>
<text class="yt" x="383.25" y="599.12" style="font-size:10px;letter-spacing:1.5px">80</text>
<line x1="384.25" y1="562.9" x2="389.25" y2="562.9"/>
<text class="yt" x="383.25" y="567.5" style="font-size:10px;letter-spacing:1.5px">100</text>
<line x1="388.25" y1="721" x2="627" y2="721"/>
<line class="dash" x1="471.3" y1="560.2" x2="471.3" y2="721"/>
<line class="dash" x1="544.5" y1="560.2" x2="544.5" y2="721"/>
<line x1="413.55" y1="721" x2="413.55" y2="726"/>
<circle cx="403.8" cy="721" r="2.75"/>
<circle cx="410.3" cy="721" r="2.75"/>
<circle cx="416.8" cy="721" r="2.75"/>
<circle cx="423.3" cy="721" r="2.75"/>
<text class="xl" x="417.4" y="736.05" transform="rotate(-45 417.4 736.05)" style="font-size:9px;letter-spacing:1.4px">Baseline</text>
<line x1="451.4" y1="721" x2="451.4" y2="726"/>
<path class="bar" d="M440.15 721V601.3H462.65V721"/>
<line x1="451.4" y1="523.1" x2="451.4" y2="642.5"/>
<line x1="444.9" y1="642.5" x2="457.9" y2="642.5"/>
<circle cx="444.9" cy="562.9" r="2.75"/>
<circle cx="447.07" cy="562.9" r="2.75"/>
<circle cx="449.23" cy="562.9" r="2.75"/>
<circle cx="451.4" cy="562.9" r="2.75"/>
<circle cx="453.57" cy="562.9" r="2.75"/>
<circle cx="455.73" cy="562.9" r="2.75"/>
<circle cx="457.9" cy="562.9" r="2.75"/>
<circle cx="451.4" cy="594.52" r="2.75"/>
<circle cx="451.4" cy="626.14" r="2.75"/>
<circle cx="451.4" cy="689.38" r="2.75"/>
<circle cx="451.4" cy="721" r="2.75"/>
<text class="xl" x="455.6" y="735.92" transform="rotate(-45 455.6 735.92)" style="font-size:9px;letter-spacing:1.8px">PEAK-E</text>
<line x1="488.3" y1="721" x2="488.3" y2="726"/>
<circle cx="480.45" cy="721" r="2.75"/>
<circle cx="483.59" cy="721" r="2.75"/>
<circle cx="486.73" cy="721" r="2.75"/>
<circle cx="489.87" cy="721" r="2.75"/>
<circle cx="493.01" cy="721" r="2.75"/>
<circle cx="496.15" cy="721" r="2.75"/>
<text class="xl" x="492.15" y="736.05" transform="rotate(-45 492.15 736.05)" style="font-size:9px;letter-spacing:1.4px">Baseline</text>
<line x1="526.4" y1="721" x2="526.4" y2="726"/>
<path class="bar" d="M515.15 721V629.95H537.65V721"/>
<line x1="526.4" y1="582.7" x2="526.4" y2="675.05"/>
<line x1="519.9" y1="582.7" x2="532.9" y2="582.7"/>
<line x1="519.9" y1="675.05" x2="532.9" y2="675.05"/>
<circle cx="519.1" cy="562.9" r="2.75"/>
<circle cx="526.4" cy="562.9" r="2.75"/>
<circle cx="533.7" cy="562.9" r="2.75"/>
<circle cx="516.95" cy="594.52" r="2.75"/>
<circle cx="523.25" cy="594.52" r="2.75"/>
<circle cx="529.55" cy="594.52" r="2.75"/>
<circle cx="535.85" cy="594.52" r="2.75"/>
<circle cx="526.4" cy="689.38" r="2.75"/>
<circle cx="519.1" cy="721" r="2.75"/>
<circle cx="526.4" cy="721" r="2.75"/>
<circle cx="533.7" cy="721" r="2.75"/>
<text class="xl" x="530.6" y="735.92" transform="rotate(-45 530.6 735.92)" style="font-size:9px;letter-spacing:1.8px">PEAK-E</text>
<line x1="563.6" y1="721" x2="563.6" y2="726"/>
<path class="bar" d="M552.35 721V718.7H574.85V721"/>
<line x1="563.6" y1="712.5" x2="563.6" y2="721"/>
<line x1="557.1" y1="712.5" x2="570.1" y2="712.5"/>
<circle cx="563.6" cy="689.38" r="2.75"/>
<circle cx="554.6" cy="721" r="2.75"/>
<circle cx="557.6" cy="721" r="2.75"/>
<circle cx="560.6" cy="721" r="2.75"/>
<circle cx="563.6" cy="721" r="2.75"/>
<circle cx="566.6" cy="721" r="2.75"/>
<circle cx="569.6" cy="721" r="2.75"/>
<circle cx="572.6" cy="721" r="2.75"/>
<text class="xl" x="567.45" y="736.05" transform="rotate(-45 567.45 736.05)" style="font-size:9px;letter-spacing:1.4px">Baseline</text>
<line x1="601.2" y1="721" x2="601.2" y2="726"/>
<path class="bar" d="M589.95 721V616.35H612.45V721"/>
<line x1="601.2" y1="571.1" x2="601.2" y2="660.1"/>
<line x1="594.7" y1="571.1" x2="607.7" y2="571.1"/>
<line x1="594.7" y1="660.1" x2="607.7" y2="660.1"/>
<circle cx="592.8" cy="562.9" r="2.75"/>
<circle cx="595.2" cy="562.9" r="2.75"/>
<circle cx="597.6" cy="562.9" r="2.75"/>
<circle cx="600" cy="562.9" r="2.75"/>
<circle cx="602.4" cy="562.9" r="2.75"/>
<circle cx="604.8" cy="562.9" r="2.75"/>
<circle cx="607.2" cy="562.9" r="2.75"/>
<circle cx="609.6" cy="562.9" r="2.75"/>
<circle cx="601.2" cy="626.14" r="2.75"/>
<circle cx="601.2" cy="657.76" r="2.75"/>
<circle cx="593.9" cy="721" r="2.75"/>
<circle cx="601.2" cy="721" r="2.75"/>
<circle cx="608.5" cy="721" r="2.75"/>
<text class="xl" x="605.4" y="735.92" transform="rotate(-45 605.4 735.92)" style="font-size:9px;letter-spacing:1.8px">PEAK-E</text>
<rect class="lb" x="395.9" y="561.2" width="22.7" height="18.2"/>
<text class="lbt" x="407" y="575.02" style="font-size:9.8px;font-weight:normal;letter-spacing:0.3px;stroke-width:0.1px">14E</text>
<rect class="lb" x="479.3" y="561.3" width="23.1" height="18"/>
<text class="lbt" x="490.9" y="574.85" style="font-size:9.8px;font-weight:normal;letter-spacing:0.4px;stroke-width:0.1px">14F</text>
<rect class="lb" x="551" y="561.3" width="23.1" height="18"/>
<text class="lbt" x="562.92" y="574.1" style="font-size:9.8px;font-weight:normal;letter-spacing:0.7px;stroke-width:0.1px">14Q</text>
<text class="yl" x="357.9" y="641.8" transform="rotate(-90 357.9 641.8)" style="font-size:10.8px;letter-spacing:1.5px">% <tspan dx="1.2">Correct</tspan></text>
<text class="ti" x="506.5" y="542.75" style="font-size:13px;letter-spacing:0.5px">Jillian</text></g>
<g><line x1="40.75" y1="833.3" x2="40.75" y2="1006"/>
<line x1="35.75" y1="1005" x2="40.75" y2="1005"/>
<text class="yt" x="34.75" y="1009.6" style="font-size:11px;letter-spacing:1.5px">0</text>
<line x1="35.75" y1="970.85" x2="40.75" y2="970.85"/>
<text class="yt" x="34.75" y="975.45" style="font-size:11px;letter-spacing:1.5px">20</text>
<line x1="35.75" y1="936.7" x2="40.75" y2="936.7"/>
<text class="yt" x="34.75" y="941.3" style="font-size:11px;letter-spacing:1.5px">40</text>
<line x1="35.75" y1="902.55" x2="40.75" y2="902.55"/>
<text class="yt" x="34.75" y="907.15" style="font-size:11px;letter-spacing:1.5px">60</text>
<line x1="35.75" y1="868.4" x2="40.75" y2="868.4"/>
<text class="yt" x="34.75" y="873" style="font-size:11px;letter-spacing:1.5px">80</text>
<line x1="35.75" y1="834.25" x2="40.75" y2="834.25"/>
<text class="yt" x="34.75" y="838.85" style="font-size:11px;letter-spacing:1.5px">100</text>
<line x1="39.75" y1="1005" x2="298" y2="1005"/>
<line class="dash" x1="130.85" y1="831.55" x2="130.85" y2="1005"/>
<line class="dash" x1="209.65" y1="831.55" x2="209.65" y2="1005"/>
<line x1="68.5" y1="1005" x2="68.5" y2="1010"/>
<path class="bar" d="M56 1005V922.9H81V1005"/>
<line x1="68.5" y1="908.7" x2="68.5" y2="936.55"/>
<line x1="62" y1="908.7" x2="75" y2="908.7"/>
<line x1="62" y1="936.55" x2="75" y2="936.55"/>
<circle cx="68.5" cy="902.55" r="2.75"/>
<circle cx="60.8" cy="919.62" r="2.75"/>
<circle cx="65.93" cy="919.62" r="2.75"/>
<circle cx="71.07" cy="919.62" r="2.75"/>
<circle cx="76.2" cy="919.62" r="2.75"/>
<circle cx="64.75" cy="936.7" r="2.75"/>
<circle cx="72.25" cy="936.7" r="2.75"/>
<text class="xl" x="72.75" y="1021.62" transform="rotate(-45 72.75 1021.62)" style="font-size:9.6px;letter-spacing:1.6px">Baseline</text>
<line x1="109.1" y1="1005" x2="109.1" y2="1010"/>
<path class="bar" d="M96.6 1005V853.55H121.6V1005"/>
<line x1="109.1" y1="843.4" x2="109.1" y2="861.8"/>
<line x1="102.6" y1="843.4" x2="115.6" y2="843.4"/>
<line x1="102.6" y1="861.8" x2="115.6" y2="861.8"/>
<circle cx="105.35" cy="834.25" r="2.75"/>
<circle cx="112.85" cy="834.25" r="2.75"/>
<circle cx="99.35" cy="851.33" r="2.75"/>
<circle cx="102.14" cy="851.33" r="2.75"/>
<circle cx="104.92" cy="851.33" r="2.75"/>
<circle cx="107.71" cy="851.33" r="2.75"/>
<circle cx="110.49" cy="851.33" r="2.75"/>
<circle cx="113.28" cy="851.33" r="2.75"/>
<circle cx="116.06" cy="851.33" r="2.75"/>
<circle cx="118.85" cy="851.33" r="2.75"/>
<circle cx="100.9" cy="868.4" r="2.75"/>
<circle cx="106.37" cy="868.4" r="2.75"/>
<circle cx="111.83" cy="868.4" r="2.75"/>
<circle cx="117.3" cy="868.4" r="2.75"/>
<text class="xl" x="113.12" y="1022" transform="rotate(-45 113.12 1022)" style="font-size:9.6px;letter-spacing:1.9px">PEAK-E</text>
<line x1="149.2" y1="1005" x2="149.2" y2="1010"/>
<path class="bar" d="M136.7 1005V984.4H161.7V1005"/>
<line x1="149.2" y1="971.75" x2="149.2" y2="995.75"/>
<line x1="142.7" y1="971.75" x2="155.7" y2="971.75"/>
<line x1="142.7" y1="995.75" x2="155.7" y2="995.75"/>
<circle cx="138.9" cy="970.85" r="2.75"/>
<circle cx="145.77" cy="970.85" r="2.75"/>
<circle cx="152.63" cy="970.85" r="2.75"/>
<circle cx="159.5" cy="970.85" r="2.75"/>
<circle cx="145.7" cy="987.92" r="2.75"/>
<circle cx="152.7" cy="987.92" r="2.75"/>
<circle cx="145.7" cy="1005" r="2.75"/>
<circle cx="152.7" cy="1005" r="2.75"/>
<text class="xl" x="153.45" y="1021.62" transform="rotate(-45 153.45 1021.62)" style="font-size:9.6px;letter-spacing:1.6px">Baseline</text>
<line x1="189.7" y1="1005" x2="189.7" y2="1010"/>
<path class="bar" d="M177.2 1005V867.05H202.2V1005"/>
<line x1="189.7" y1="853" x2="189.7" y2="876.7"/>
<line x1="183.2" y1="853" x2="196.2" y2="853"/>
<line x1="183.2" y1="876.7" x2="196.2" y2="876.7"/>
<circle cx="181.1" cy="851.33" r="2.75"/>
<circle cx="183.56" cy="851.33" r="2.75"/>
<circle cx="186.01" cy="851.33" r="2.75"/>
<circle cx="188.47" cy="851.33" r="2.75"/>
<circle cx="190.93" cy="851.33" r="2.75"/>
<circle cx="193.39" cy="851.33" r="2.75"/>
<circle cx="195.84" cy="851.33" r="2.75"/>
<circle cx="198.3" cy="851.33" r="2.75"/>
<circle cx="189.7" cy="868.4" r="2.75"/>
<circle cx="180" cy="885.48" r="2.75"/>
<circle cx="184.85" cy="885.48" r="2.75"/>
<circle cx="189.7" cy="885.48" r="2.75"/>
<circle cx="194.55" cy="885.48" r="2.75"/>
<circle cx="199.4" cy="885.48" r="2.75"/>
<circle cx="189.7" cy="902.55" r="2.75"/>
<text class="xl" x="193.72" y="1022" transform="rotate(-45 193.72 1022)" style="font-size:9.6px;letter-spacing:1.9px">PEAK-E</text>
<line x1="229.9" y1="1005" x2="229.9" y2="1010"/>
<path class="bar" d="M217.4 1005V929.2H242.4V1005"/>
<line x1="229.9" y1="922.7" x2="229.9" y2="936.4"/>
<line x1="223.4" y1="922.7" x2="236.4" y2="922.7"/>
<line x1="223.4" y1="936.4" x2="236.4" y2="936.4"/>
<circle cx="220.65" cy="919.62" r="2.75"/>
<circle cx="225.28" cy="919.62" r="2.75"/>
<circle cx="229.9" cy="919.62" r="2.75"/>
<circle cx="234.53" cy="919.62" r="2.75"/>
<circle cx="239.15" cy="919.62" r="2.75"/>
<circle cx="220.5" cy="936.7" r="2.75"/>
<circle cx="225.2" cy="936.7" r="2.75"/>
<circle cx="229.9" cy="936.7" r="2.75"/>
<circle cx="234.6" cy="936.7" r="2.75"/>
<circle cx="239.3" cy="936.7" r="2.75"/>
<text class="xl" x="234.15" y="1021.62" transform="rotate(-45 234.15 1021.62)" style="font-size:9.6px;letter-spacing:1.6px">Baseline</text>
<line x1="270.3" y1="1005" x2="270.3" y2="1010"/>
<path class="bar" d="M257.8 1005V849.7H282.8V1005"/>
<line x1="270.3" y1="790.9" x2="270.3" y2="867.8"/>
<line x1="263.8" y1="867.8" x2="276.8" y2="867.8"/>
<circle cx="260.1" cy="834.25" r="2.75"/>
<circle cx="266.9" cy="834.25" r="2.75"/>
<circle cx="273.7" cy="834.25" r="2.75"/>
<circle cx="280.5" cy="834.25" r="2.75"/>
<circle cx="270.3" cy="851.33" r="2.75"/>
<circle cx="270.3" cy="868.4" r="2.75"/>
<circle cx="270.3" cy="885.48" r="2.75"/>
<text class="xl" x="274.33" y="1022" transform="rotate(-45 274.33 1022)" style="font-size:9.6px;letter-spacing:1.9px">PEAK-E</text>
<rect class="lb" x="48.4" y="832" width="20.2" height="20"/>
<text class="lbt" x="57.62" y="846.6" style="font-size:9.8px;font-weight:bold;letter-spacing:0.1px">5A</text>
<rect class="lb" x="139.3" y="832.1" width="19.15" height="19.3"/>
<text class="lbt" x="147.93" y="846.75" style="font-size:9.8px;font-weight:bold;letter-spacing:0px">5B</text>
<rect class="lb" x="216.7" y="832.1" width="19.1" height="19.3"/>
<text class="lbt" x="226.1" y="846.75" style="font-size:9.8px;font-weight:bold;letter-spacing:1.1px">5C</text>
<text class="yl" x="8.1" y="919.85" transform="rotate(-90 8.1 919.85)" style="font-size:12.3px;letter-spacing:1.3px">% <tspan dx="1.2">Correct</tspan></text>
<text class="ti" x="170.15" y="811.95" style="font-size:12.8px;letter-spacing:1.4px">Kris</text></g>
<g><line x1="380.4" y1="831.2" x2="380.4" y2="1005.1"/>
<line x1="375.4" y1="1004.1" x2="380.4" y2="1004.1"/>
<text class="yt" x="374.4" y="1008.7" style="font-size:11px;letter-spacing:1.5px">0</text>
<line x1="375.4" y1="969.7" x2="380.4" y2="969.7"/>
<text class="yt" x="374.4" y="974.3" style="font-size:11px;letter-spacing:1.5px">20</text>
<line x1="375.4" y1="935.3" x2="380.4" y2="935.3"/>
<text class="yt" x="374.4" y="939.9" style="font-size:11px;letter-spacing:1.5px">40</text>
<line x1="375.4" y1="900.9" x2="380.4" y2="900.9"/>
<text class="yt" x="374.4" y="905.5" style="font-size:11px;letter-spacing:1.5px">60</text>
<line x1="375.4" y1="866.5" x2="380.4" y2="866.5"/>
<text class="yt" x="374.4" y="871.1" style="font-size:11px;letter-spacing:1.5px">80</text>
<line x1="375.4" y1="832.1" x2="380.4" y2="832.1"/>
<text class="yt" x="374.4" y="836.7" style="font-size:11px;letter-spacing:1.5px">100</text>
<line x1="379.4" y1="1004.1" x2="641" y2="1004.1"/>
<line class="dash" x1="470.75" y1="829.4" x2="470.75" y2="1004.1"/>
<line class="dash" x1="549.9" y1="829.4" x2="549.9" y2="1004.1"/>
<line x1="407.9" y1="1004.1" x2="407.9" y2="1009.1"/>
<path class="bar" d="M395.4 1004.1V975.75H420.4V1004.1"/>
<line x1="407.9" y1="965.6" x2="407.9" y2="987"/>
<line x1="401.4" y1="965.6" x2="414.4" y2="965.6"/>
<line x1="401.4" y1="987" x2="414.4" y2="987"/>
<circle cx="397.6" cy="969.7" r="2.75"/>
<circle cx="402.75" cy="969.7" r="2.75"/>
<circle cx="407.9" cy="969.7" r="2.75"/>
<circle cx="413.05" cy="969.7" r="2.75"/>
<circle cx="418.2" cy="969.7" r="2.75"/>
<circle cx="404.4" cy="986.9" r="2.75"/>
<circle cx="411.4" cy="986.9" r="2.75"/>
<text class="xl" x="411.85" y="1021.33" transform="rotate(-45 411.85 1021.33)" style="font-size:9.6px;letter-spacing:1.6px">Baseline</text>
<line x1="448.2" y1="1004.1" x2="448.2" y2="1009.1"/>
<path class="bar" d="M435.7 1004.1V861.25H460.7V1004.1"/>
<line x1="448.2" y1="849.5" x2="448.2" y2="867.9"/>
<line x1="441.7" y1="849.5" x2="454.7" y2="849.5"/>
<line x1="441.7" y1="867.9" x2="454.7" y2="867.9"/>
<circle cx="448.2" cy="832.1" r="2.75"/>
<circle cx="440" cy="849.3" r="2.75"/>
<circle cx="442.34" cy="849.3" r="2.75"/>
<circle cx="444.69" cy="849.3" r="2.75"/>
<circle cx="447.03" cy="849.3" r="2.75"/>
<circle cx="449.37" cy="849.3" r="2.75"/>
<circle cx="451.71" cy="849.3" r="2.75"/>
<circle cx="454.06" cy="849.3" r="2.75"/>
<circle cx="456.4" cy="849.3" r="2.75"/>
<circle cx="438.25" cy="866.5" r="2.75"/>
<circle cx="441.09" cy="866.5" r="2.75"/>
<circle cx="443.94" cy="866.5" r="2.75"/>
<circle cx="446.78" cy="866.5" r="2.75"/>
<circle cx="449.62" cy="866.5" r="2.75"/>
<circle cx="452.46" cy="866.5" r="2.75"/>
<circle cx="455.31" cy="866.5" r="2.75"/>
<circle cx="458.15" cy="866.5" r="2.75"/>
<circle cx="438.4" cy="883.7" r="2.75"/>
<circle cx="443.3" cy="883.7" r="2.75"/>
<circle cx="448.2" cy="883.7" r="2.75"/>
<circle cx="453.1" cy="883.7" r="2.75"/>
<circle cx="458" cy="883.7" r="2.75"/>
<text class="xl" x="453.08" y="1020.95" transform="rotate(-45 453.08 1020.95)" style="font-size:9.6px;letter-spacing:2.1px">PEAK-E</text>
<line x1="489.2" y1="1004.1" x2="489.2" y2="1009.1"/>
<path class="bar" d="M476.7 1004.1V916.75H501.7V1004.1"/>
<line x1="489.2" y1="910.8" x2="489.2" y2="918.3"/>
<line x1="482.7" y1="910.8" x2="495.7" y2="910.8"/>
<line x1="482.7" y1="918.3" x2="495.7" y2="918.3"/>
<circle cx="489.2" cy="900.9" r="2.75"/>
<circle cx="479.1" cy="918.1" r="2.75"/>
<circle cx="481.62" cy="918.1" r="2.75"/>
<circle cx="484.15" cy="918.1" r="2.75"/>
<circle cx="486.67" cy="918.1" r="2.75"/>
<circle cx="489.2" cy="918.1" r="2.75"/>
<circle cx="491.72" cy="918.1" r="2.75"/>
<circle cx="494.25" cy="918.1" r="2.75"/>
<circle cx="496.77" cy="918.1" r="2.75"/>
<circle cx="499.3" cy="918.1" r="2.75"/>
<text class="xl" x="493.15" y="1021.33" transform="rotate(-45 493.15 1021.33)" style="font-size:9.6px;letter-spacing:1.6px">Baseline</text>
<line x1="529.85" y1="1004.1" x2="529.85" y2="1009.1"/>
<path class="bar" d="M517.35 1004.1V853H542.35V1004.1"/>
<line x1="529.85" y1="845.1" x2="529.85" y2="860"/>
<line x1="523.35" y1="845.1" x2="536.35" y2="845.1"/>
<line x1="523.35" y1="860" x2="536.35" y2="860"/>
<circle cx="526.35" cy="832.1" r="2.75"/>
<circle cx="533.35" cy="832.1" r="2.75"/>
<circle cx="520.8" cy="849.3" r="2.75"/>
<circle cx="523.06" cy="849.3" r="2.75"/>
<circle cx="525.33" cy="849.3" r="2.75"/>
<circle cx="527.59" cy="849.3" r="2.75"/>
<circle cx="529.85" cy="849.3" r="2.75"/>
<circle cx="532.11" cy="849.3" r="2.75"/>
<circle cx="534.38" cy="849.3" r="2.75"/>
<circle cx="536.64" cy="849.3" r="2.75"/>
<circle cx="538.9" cy="849.3" r="2.75"/>
<circle cx="521.95" cy="866.5" r="2.75"/>
<circle cx="527.22" cy="866.5" r="2.75"/>
<circle cx="532.48" cy="866.5" r="2.75"/>
<circle cx="537.75" cy="866.5" r="2.75"/>
<circle cx="529.85" cy="883.7" r="2.75"/>
<text class="xl" x="534.73" y="1020.95" transform="rotate(-45 534.73 1020.95)" style="font-size:9.6px;letter-spacing:2.1px">PEAK-E</text>
<line x1="570.8" y1="1004.1" x2="570.8" y2="1009.1"/>
<path class="bar" d="M558.3 1004.1V932.85H583.3V1004.1"/>
<line x1="570.8" y1="920.4" x2="570.8" y2="945.85"/>
<line x1="564.3" y1="920.4" x2="577.3" y2="920.4"/>
<line x1="564.3" y1="945.85" x2="577.3" y2="945.85"/>
<circle cx="564.2" cy="918.1" r="2.75"/>
<circle cx="567.5" cy="918.1" r="2.75"/>
<circle cx="570.8" cy="918.1" r="2.75"/>
<circle cx="574.1" cy="918.1" r="2.75"/>
<circle cx="577.4" cy="918.1" r="2.75"/>
<circle cx="570.8" cy="935.3" r="2.75"/>
<circle cx="567.15" cy="952.5" r="2.75"/>
<circle cx="574.45" cy="952.5" r="2.75"/>
<circle cx="570.8" cy="969.7" r="2.75"/>
<text class="xl" x="574.75" y="1021.33" transform="rotate(-45 574.75 1021.33)" style="font-size:9.6px;letter-spacing:1.6px">Baseline</text>
<line x1="611.6" y1="1004.1" x2="611.6" y2="1009.1"/>
<path class="bar" d="M599.1 1004.1V861.95H624.1V1004.1"/>
<line x1="611.6" y1="844.3" x2="611.6" y2="877.5"/>
<line x1="605.1" y1="844.3" x2="618.1" y2="844.3"/>
<line x1="605.1" y1="877.5" x2="618.1" y2="877.5"/>
<circle cx="602.3" cy="832.1" r="2.75"/>
<circle cx="606.95" cy="832.1" r="2.75"/>
<circle cx="611.6" cy="832.1" r="2.75"/>
<circle cx="616.25" cy="832.1" r="2.75"/>
<circle cx="620.9" cy="832.1" r="2.75"/>
<circle cx="611.6" cy="849.3" r="2.75"/>
<circle cx="608.1" cy="866.5" r="2.75"/>
<circle cx="615.1" cy="866.5" r="2.75"/>
<circle cx="603.45" cy="883.7" r="2.75"/>
<circle cx="608.88" cy="883.7" r="2.75"/>
<circle cx="614.32" cy="883.7" r="2.75"/>
<circle cx="619.75" cy="883.7" r="2.75"/>
<circle cx="608.1" cy="900.9" r="2.75"/>
<circle cx="615.1" cy="900.9" r="2.75"/>
<text class="xl" x="616.48" y="1020.95" transform="rotate(-45 616.48 1020.95)" style="font-size:9.6px;letter-spacing:2.1px">PEAK-E</text>
<rect class="lb" x="387.3" y="830" width="19.9" height="20.3"/>
<text class="lbt" x="396.17" y="844.8" style="font-size:9.8px;font-weight:bold;letter-spacing:0px">5B</text>
<rect class="lb" x="479.3" y="830.3" width="16.7" height="19.5"/>
<text class="lbt" x="488.35" y="845" style="font-size:9.8px;font-weight:bold;letter-spacing:1.9px">6I</text>
<rect class="lb" x="557" y="830.3" width="17.1" height="19.5"/>
<text class="lbt" x="565.73" y="845" style="font-size:9.8px;font-weight:bold;letter-spacing:0.6px">6J</text>
<text class="yl" x="346.15" y="918.12" transform="rotate(-90 346.15 918.12)" style="font-size:12.3px;letter-spacing:1.5px">% Correct</text>
<text class="ti" x="508.48" y="809.65" style="font-size:12.8px;letter-spacing:1.7px">Sam</text></g>
</svg></body></html>
